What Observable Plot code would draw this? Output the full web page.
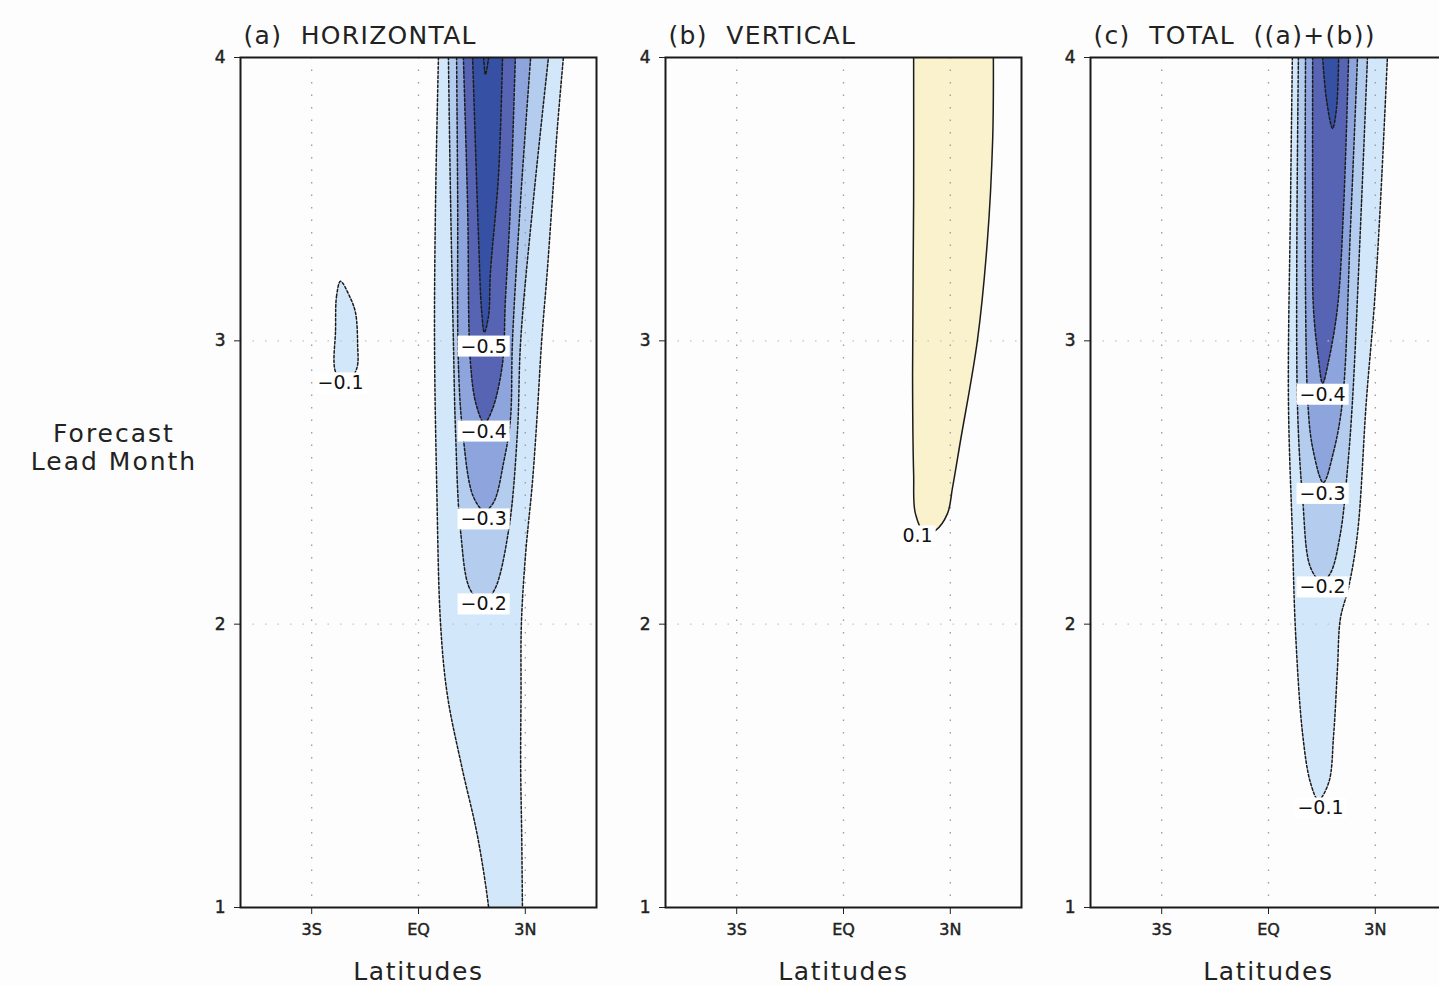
<!DOCTYPE html>
<html><head><meta charset="utf-8">
<script src="https://cdn.jsdelivr.net/npm/d3@7"></script>
<script src="https://cdn.jsdelivr.net/npm/@observablehq/plot@0.6"></script>
<style>
html,body{margin:0;padding:0;background:#fdfdfd;overflow:hidden;width:1439px;height:985px;}
#root{position:relative;width:1439px;height:985px;overflow:hidden;font-family:"DejaVu Sans",sans-serif;color:#222;}
.panel{position:absolute;overflow:visible;}
.panel svg{max-width:none !important;}
#ylab{position:absolute;left:0;width:228px;top:420px;text-align:center;font-size:25px;line-height:28px;letter-spacing:2px;color:#222;}
.panel g[aria-label^="x-axis"] text, .panel g[aria-label^="y-axis"] text{stroke:#222;stroke-width:0.45px;}
.panel g[aria-label^="y-axis"] text{font-size:17px;}
</style></head><body><div id="root"><div id="ylab">Forecast<br>Lead Month</div></div>
<script>
// ---------------- data ----------------
const latDomain = [-5, 5];
const monthDomain = [1, 4];
const latTicks = [-3, 0, 3];
const latTickLabels = ["3S", "EQ", "3N"];
const monthTicks = [1, 2, 3, 4];
const gridMonths = [2, 3];
const panelTitles = ["(a)  HORIZONTAL", "(b)  VERTICAL", "(c)  TOTAL  ((a)+(b))"];
const xTitle = "Latitudes";
const levels = [-0.5, -0.4, -0.3, -0.2, -0.1, 0.1];
const levelColors = ["#3651a3", "#5763b3", "#8da5dc", "#b4cdef", "#d3e7fa", "#faf1cd"];

// contour rings: [latitude, lead month]
// panel (a) horizontal
const hzM01 = [[0.56,4],[0.48,3.5],[0.45,3],[0.51,2.5],[0.62,2],[0.81,1.75],[1.21,1.5],[1.66,1.25],[1.97,1],[2.04,0.9],
               [2.93,0.9],[2.92,1],[2.90,1.25],[2.87,1.5],[2.88,1.75],[2.89,2],[3.01,2.25],[3.20,2.5],[3.34,2.75],[3.46,3],[3.62,3.25],[3.76,3.5],[3.90,3.75],[4.07,4]];
const hzM01Island = [[-2.19,3.21],[-2.30,3.16],[-2.33,3.04],[-2.33,2.89],[-2.05,2.85],[-1.74,2.90],[-1.71,2.99],[-1.77,3.10],[-1.91,3.15]];
const hzM02 = [[0.84,4],[0.90,3.5],[0.98,3],[1.04,2.68],[1.18,2.33],[1.46,2.12],[1.83,2.08],[2.13,2.12],[2.53,2.33],[2.78,2.68],[2.87,3],[3.23,3.5],[3.65,4]];
const hzM03 = [[1.07,4],[1.10,3.5],[1.12,2.92],[1.24,2.68],[1.54,2.45],[1.85,2.40],[2.11,2.43],[2.39,2.57],[2.58,2.72],[2.64,3],[2.87,3.5],[3.15,4]];
const hzM04 = [[1.26,4],[1.38,3.47],[1.46,2.92],[1.63,2.77],[1.85,2.71],[2.08,2.76],[2.36,2.92],[2.44,3.14],[2.58,3.47],[2.72,4]];
const hzM05 = [[1.52,4],[1.69,3.35],[1.77,3.11],[1.85,3.03],[1.97,3.09],[2.02,3.24],[2.25,3.59],[2.36,4]];
const hzM06 = [[1.83,4],[1.88,3.94],[1.97,4]];
const hzLabels = [[-2.19,2.85,"−0.1"],[1.83,2.98,"−0.5"],[1.83,2.68,"−0.4"],[1.83,2.37,"−0.3"],[1.83,2.07,"−0.2"]];

// panel (b) vertical
const vtP01 = [[1.97,4],[1.97,3.5],[1.94,2.88],[1.97,2.53],[2.02,2.39],[2.30,2.32],[2.58,2.33],[2.92,2.39],[3.06,2.48],[3.29,2.65],[3.76,3],[4.04,3.35],[4.19,3.71],[4.21,4]];
const vtLabels = [[2.08,2.31,"0.1"]];

// panel (c) total
const ttM01 = [[0.67,4],[0.62,3.5],[0.56,2.79],[0.67,2.32],[0.76,1.97],[0.96,1.61],[1.18,1.44],[1.40,1.38],[1.69,1.44],[1.83,1.61],[1.94,1.85],[2.02,2.02],[2.25,2.13],[2.50,2.32],[2.75,2.79],[2.98,3.14],[3.15,3.5],[3.34,4]];
const ttM02 = [[0.84,4],[0.81,2.79],[0.96,2.44],[1.18,2.2],[1.49,2.15],[1.74,2.18],[2.02,2.32],[2.22,2.55],[2.36,2.79],[2.58,3.39],[2.78,4]];
const ttM03 = [[1.04,4],[1.10,2.79],[1.26,2.61],[1.54,2.50],[1.83,2.61],[2.08,2.79],[2.30,3.39],[2.50,4]];
const ttM04 = [[1.24,4],[1.24,3.47],[1.26,3.12],[1.40,2.94],[1.52,2.85],[1.69,2.93],[1.94,3.12],[2.11,3.47],[2.25,4]];
const ttM05 = [[1.52,4],[1.63,3.85],[1.80,3.75],[1.91,3.82],[1.97,4]];
const ttLabels = [[1.52,2.81,"−0.4"],[1.52,2.46,"−0.3"],[1.52,2.13,"−0.2"],[1.46,1.35,"−0.1"]];

// ---------------- drawing ----------------
const colorOf = v => levelColors[levels.indexOf(v)];
const tickName = new Map(latTicks.map((t, i) => [t, latTickLabels[i]]));
const frames = [240, 665, 1090];
const ML = 60, MT = 60, MR = 20, MB = 80, PW = 356, PH = 850;

function panel(idx, contours, labels) {
  const marks = [];
  for (const c of contours) {
    marks.push(Plot.line(c.ring, {x: d => d[0], y: d => d[1], fill: colorOf(c.level), stroke: "none",
      curve: c.closed ? "catmull-rom-closed" : "catmull-rom", clip: true}));
  }
  marks.push(Plot.ruleX(latTicks, {stroke: "#9a9a9a", strokeDasharray: "1.5,11", strokeWidth: 1.3}));
  marks.push(Plot.ruleY(gridMonths, {stroke: "#c4c4c4", strokeDasharray: "1.5,11", strokeWidth: 1.3}));
  for (const c of contours) {
    marks.push(Plot.line(c.ring, {x: d => d[0], y: d => d[1], stroke: "#1c1c1c", strokeWidth: 1.5,
      strokeDasharray: c.level < 0 ? "2.6,2" : null,
      curve: c.closed ? "catmull-rom-closed" : "catmull-rom", clip: true}));
  }
  marks.push(Plot.text(labels, {x: d => d[0], y: d => d[1], text: d => d[2], fontSize: 19,
    fill: "#111", ariaLabel: "contour label"}));
  marks.push(Plot.frame({stroke: "#1a1a1a", strokeWidth: 2}));
  marks.push(Plot.text([panelTitles[idx]], {frameAnchor: "top-left", textAnchor: "start", lineAnchor: "middle",
    dx: 3, dy: -22, fontSize: 25, fill: "#222"}));
  marks.push(Plot.text([xTitle], {frameAnchor: "bottom", lineAnchor: "middle", dy: 64, fontSize: 25, fill: "#222"}));

  const W = ML + PW + MR, H = MT + PH + MB;
  const svg = Plot.plot({
    width: W, height: H,
    marginLeft: ML, marginTop: MT, marginRight: MR, marginBottom: MB,
    style: {fontFamily: "DejaVu Sans, sans-serif", fontSize: "16px", color: "#222", background: "transparent", overflow: "visible", maxWidth: "none"},
    x: {domain: latDomain, ticks: latTicks, tickFormat: d => tickName.get(d), tickSize: 7, tickPadding: 9, label: null},
    y: {domain: monthDomain, ticks: monthTicks, tickFormat: d => String(d), tickSize: 6, tickPadding: 9, label: null},
    marks
  });
  svg.setAttribute("width", W);
  svg.setAttribute("height", H);
  svg.style.width = W + "px";
  svg.style.height = H + "px";
  const holder = document.createElement("div");
  holder.className = "panel";
  holder.style.left = (frames[idx] - ML) + "px";
  holder.style.top = (57 - MT) + "px";
  holder.style.width = W + "px";
  holder.style.height = H + "px";
  holder.appendChild(svg);
  document.getElementById("root").appendChild(holder);

  const labelTexts = new Set(labels.map(d => d[2]));
  const bigTexts = new Set([panelTitles[idx], xTitle]);
  d3.select(svg).selectAll("text").each(function () {
    const t = this;
    const s = t.textContent;
    if (bigTexts.has(s)) t.style.letterSpacing = s === xTitle ? "1.6px" : "1.3px";
    if (!labelTexts.has(s)) return;
    const b = t.getBBox();
    const r = document.createElementNS("http://www.w3.org/2000/svg", "rect");
    r.setAttribute("x", b.x - 3);
    r.setAttribute("y", b.y + 1);
    r.setAttribute("width", b.width + 6);
    r.setAttribute("height", b.height - 1);
    if (t.getAttribute("transform")) r.setAttribute("transform", t.getAttribute("transform"));
    r.setAttribute("fill", "#ffffff");
    r.setAttribute("stroke", "none");
    t.parentNode.insertBefore(r, t);
  });
}

panel(0, [
  {level: -0.1, ring: hzM01}, {level: -0.1, ring: hzM01Island, closed: true},
  {level: -0.2, ring: hzM02}, {level: -0.3, ring: hzM03}, {level: -0.4, ring: hzM04},
  {level: -0.5, ring: hzM05}, {level: -0.5, ring: hzM06}
], hzLabels);
panel(1, [{level: 0.1, ring: vtP01}], vtLabels);
panel(2, [
  {level: -0.1, ring: ttM01}, {level: -0.2, ring: ttM02}, {level: -0.3, ring: ttM03},
  {level: -0.4, ring: ttM04}, {level: -0.5, ring: ttM05}
], ttLabels);
</script></body></html>
